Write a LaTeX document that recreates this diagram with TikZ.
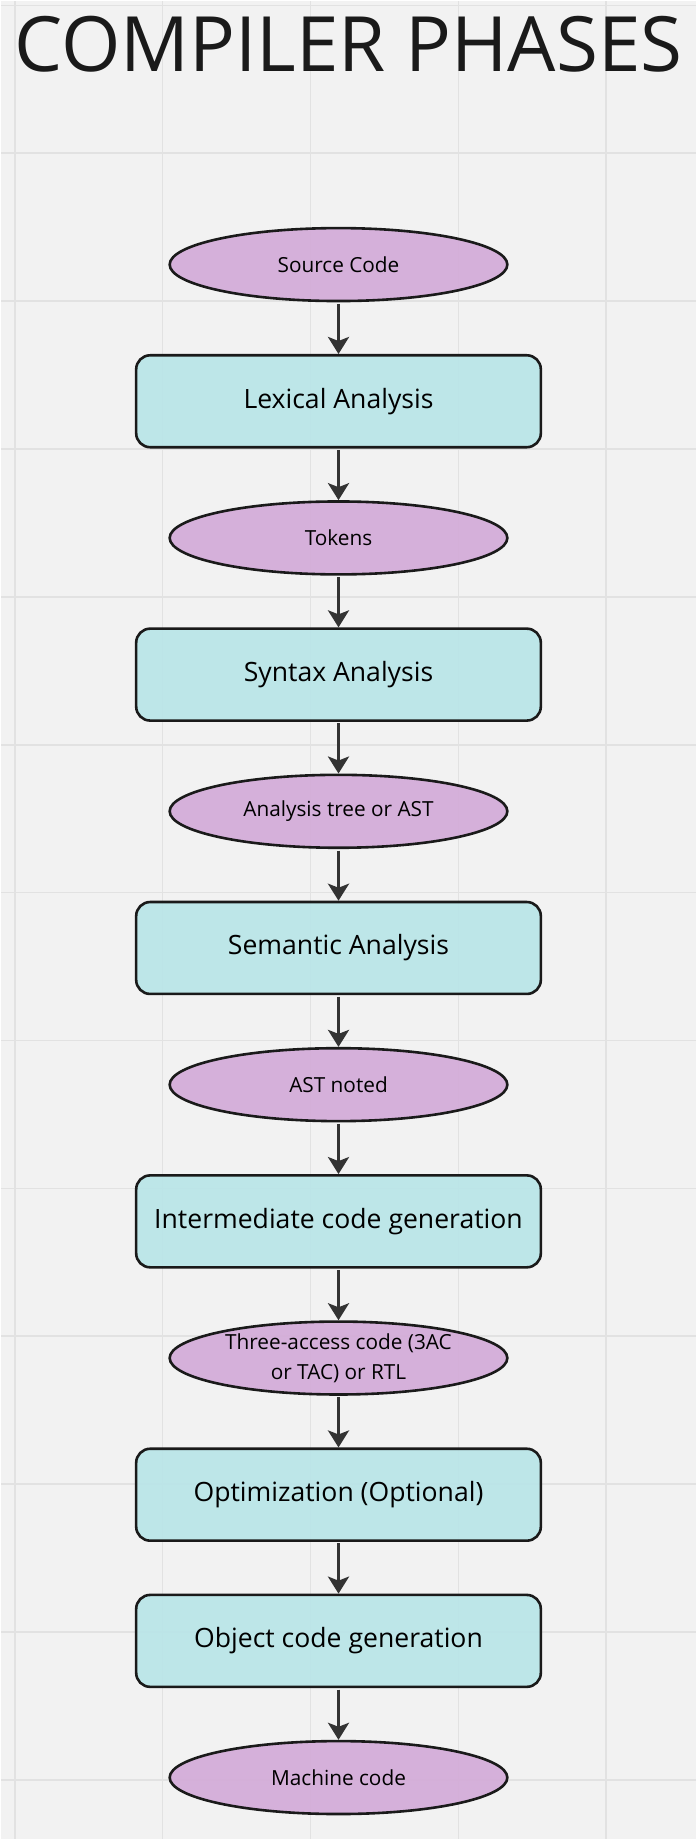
\documentclass[tikz,border=0pt]{standalone}
\usepackage{fontspec}
\setmainfont{Open Sans}
\usetikzlibrary{positioning,shapes.geometric,arrows.meta}
\definecolor{bgc}{HTML}{F2F2F2}
\definecolor{gridc}{HTML}{E2E2E2}
\definecolor{datac}{HTML}{D3ABD8}
\definecolor{phasec}{HTML}{B9E5E8}
\definecolor{edgec}{HTML}{1A1A1A}
\definecolor{arrowc}{HTML}{333333}

\begin{document}
\begin{tikzpicture}[x=1pt, y=1pt, node distance=51.7pt,
  data/.style={ellipse, draw=edgec, fill=datac, fill opacity=0.92, text opacity=1, line width=2.6pt,
    minimum width=338pt, minimum height=73pt, inner sep=0pt, align=center,
    font=\fontsize{20.8}{29.7}\selectfont},
  phase/.style={rectangle, rounded corners=14pt, draw=edgec, fill=phasec, fill opacity=0.92, text opacity=1,
    line width=2.6pt, minimum width=405pt, minimum height=92pt, font=\fontsize{26.6}{32}\selectfont},
  flow/.style={-{Stealth[width=21pt,length=17pt,inset=4pt]}, draw=arrowc, line width=3.4pt, shorten <=1.5pt}]

% Background and grid
\fill[bgc] (0,0) rectangle (696,-1840);
\foreach \gy in {0,...,12} \draw[gridc, line width=1.6pt] (0,-4.6-148*\gy) -- (696,-4.6-148*\gy);
\foreach \gx in {0,...,4} \draw[gridc, line width=1.6pt] (14+148*\gx,0) -- (14+148*\gx,-1840);

% Title
\node (title) [anchor=base, text=edgec, font=\fontsize{76.4}{84}\selectfont] at (348,-71) {COMPILER PHASES};

% Nodes
\node (src) [data] at (338,-264) {Source Code};
\node (lex) [phase, below=of src] {Lexical Analysis};
\node (tok) [data, below=of lex] {Tokens};
\node (syn) [phase, below=of tok] {Syntax Analysis};
\node (ast) [data, below=of syn] {Analysis tree or AST};
\node (sem) [phase, below=of ast] {Semantic Analysis};
\node (astn) [data, below=of sem] {AST noted};
\node (icg) [phase, below=of astn] {Intermediate code generation};
\node (tac) [data, below=of icg] {Three-access code (3AC\\or TAC) or RTL};
\node (opt) [phase, below=of tac] {Optimization (Optional)};
\node (ocg) [phase, below=of opt] {Object code generation};
\node (mc) [data, below=of ocg] {Machine code};

% Arrows
\draw[flow] (src) -- (lex);
\draw[flow] (lex) -- (tok);
\draw[flow] (tok) -- (syn);
\draw[flow] (syn) -- (ast);
\draw[flow] (ast) -- (sem);
\draw[flow] (sem) -- (astn);
\draw[flow] (astn) -- (icg);
\draw[flow] (icg) -- (tac);
\draw[flow] (tac) -- (opt);
\draw[flow] (opt) -- (ocg);
\draw[flow] (ocg) -- (mc);

\end{tikzpicture}
\end{document}
